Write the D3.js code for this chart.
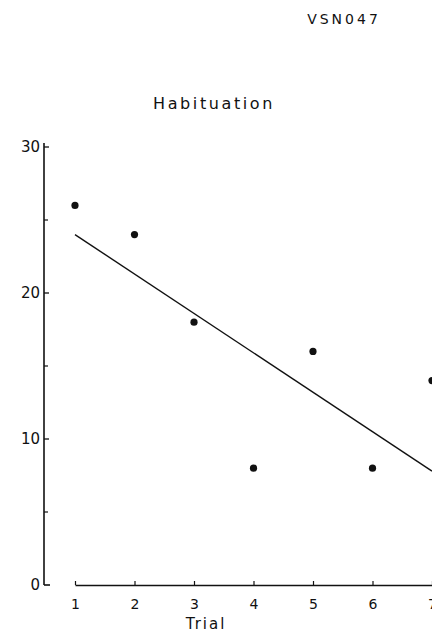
<!DOCTYPE html>
<html>
<head>
<meta charset="utf-8">
<script src="https://d3js.org/d3.v7.min.js"></script>
<style>
  body { margin: 0; background: #fff; }
  svg text { font-family: "DejaVu Sans", sans-serif; fill: #111; }
</style>
</head>
<body>
<script>
// values
var trials = [1, 2, 3, 4, 5, 6, 7];
var scores = [26, 24, 18, 8, 16, 8, 14];
var fitLine = [[1, 24], [7, 7.8]];
var yTicks = [0, 10, 20, 30];
var yMinor = [5, 15, 25];

var width = 432, height = 641;

var svg = d3.select("body").append("svg")
  .attr("width", width).attr("height", height);

var x = d3.scaleLinear().domain([1, 7]).range([75, 432]);
var y = d3.scaleLinear().domain([0, 30]).range([585, 147]);

svg.append("text")
  .attr("x", 344).attr("y", 24)
  .attr("text-anchor", "middle")
  .style("font-size", "14px").style("letter-spacing", "3px")
  .text("VSN047");

svg.append("text")
  .attr("x", 214).attr("y", 109)
  .attr("text-anchor", "middle")
  .style("font-size", "16px").style("letter-spacing", "2.6px")
  .text("Habituation");

// y axis, ticks pointing inwards
var yAxis = svg.append("g").attr("transform", "translate(44,0)");
yAxis.append("line")
  .attr("x1", 0).attr("x2", 0)
  .attr("y1", y(30) - 4).attr("y2", y(0))
  .attr("stroke", "#111").attr("stroke-width", 1.6);
yAxis.append("line")
  .attr("x1", 0).attr("x2", 6)
  .attr("y1", y(0)).attr("y2", y(0))
  .attr("stroke", "#111").attr("stroke-width", 1.6);
yAxis.selectAll(".maj").data(yTicks.slice(1)).enter().append("line")
  .attr("x1", 0).attr("x2", 5)
  .attr("y1", d => y(d)).attr("y2", d => y(d))
  .attr("stroke", "#111").attr("stroke-width", 1.3);
yAxis.selectAll(".min").data(yMinor).enter().append("line")
  .attr("x1", 0).attr("x2", 4)
  .attr("y1", d => y(d)).attr("y2", d => y(d))
  .attr("stroke", "#111").attr("stroke-width", 1.2);
yAxis.selectAll("text").data(yTicks).enter().append("text")
  .attr("x", -4).attr("y", d => y(d)).attr("dy", "0.36em")
  .attr("text-anchor", "end")
  .style("font-size", "15px")
  .text(d => d);

// x axis, ticks pointing up
var xAxis = d3.axisBottom(x).tickValues(trials).tickFormat(d3.format("d"))
  .tickSize(-4).tickSizeOuter(0).tickPadding(14);
var gx = svg.append("g").attr("transform", "translate(0," + y(0) + ")").call(xAxis);
gx.select(".domain").attr("stroke", "#111").attr("stroke-width", 1.3);
gx.selectAll(".tick line").attr("stroke", "#111").attr("stroke-width", 1.2);
gx.selectAll(".tick text")
  .style("font-family", "DejaVu Sans, sans-serif")
  .style("font-size", "14px").attr("fill", "#111");

svg.append("text")
  .attr("x", 206).attr("y", 629)
  .attr("text-anchor", "middle")
  .style("font-size", "15px").style("letter-spacing", "2px")
  .text("Trial");

// fitted line
svg.append("line")
  .attr("x1", x(fitLine[0][0])).attr("y1", y(fitLine[0][1]))
  .attr("x2", x(fitLine[1][0])).attr("y2", y(fitLine[1][1]))
  .attr("stroke", "#111").attr("stroke-width", 1.4);

svg.selectAll(".pt").data(trials).enter().append("circle")
  .attr("cx", (d, i) => x(d))
  .attr("cy", (d, i) => y(scores[i]))
  .attr("r", 3.6)
  .attr("fill", "#111");
</script>
</body>
</html>
